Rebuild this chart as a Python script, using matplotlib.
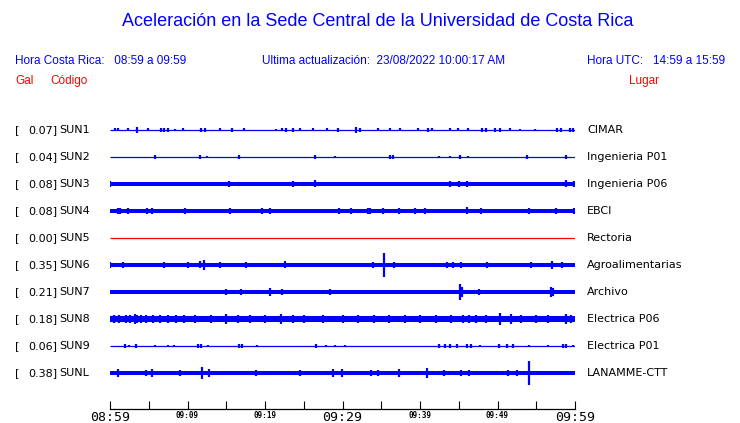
import numpy as np
import matplotlib
matplotlib.use("Agg")
from matplotlib import pyplot as plt

# station info, top to bottom
gal = ["0.07", "0.04", "0.08", "0.08", "0.00", "0.35", "0.21", "0.18", "0.06", "0.38"]
codes = ["SUN1", "SUN2", "SUN3", "SUN4", "SUN5", "SUN6", "SUN7", "SUN8", "SUN9", "SUNL"]
places = ["CIMAR", "Ingenieria P01", "Ingenieria P06", "EBCI", "Rectoria",
          "Agroalimentarias", "Archivo", "Electrica P06", "Electrica P01", "LANAMME-CTT"]

# background noise half-amplitude of each trace (fraction of row spacing)
base_amp = [0.0, 0.0, 0.08, 0.06, 0.0, 0.08, 0.06, 0.1, 0.0, 0.06]

# bursts: (minutes after 08:59, half-amplitude)
sun1 = [(0.6, .055), (1.0, .055), (2.3, .055), (3.5, .11), (4.9, .055), (6.6, .06), (7.0, .06),
        (7.5, .06), (8.4, .05), (9.4, .055), (11.7, .07), (12.3, .07), (14.2, .055), (15.7, .07),
        (17.3, .055), (21.4, .05), (22.2, .055), (22.7, .07), (23.6, .07), (24.5, .055), (26.2, .055),
        (28.0, .055), (29.4, .07), (31.7, .1), (32.3, .07), (34.6, .055), (36.1, .055), (37.4, .055),
        (39.7, .055), (41.0, .07), (41.6, .055), (43.9, .055), (44.9, .055), (46.2, .055), (48.0, .09),
        (48.5, .07), (49.7, .07), (50.3, .07), (51.6, .055), (52.9, .05), (54.8, .05), (57.7, .07),
        (58.2, .07), (59.4, .09), (59.7, .09)]
sun2 = [(5.8, .07), (11.6, .07), (12.5, .05), (16.6, .07), (26.5, .07), (29.0, .05), (36.1, .07),
        (36.5, .07), (42.5, .05), (43.9, .05), (45.1, .075), (46.2, .05), (53.8, .06), (58.8, .075)]
sun3 = [(0.0, .11), (15.4, .1), (23.6, .11), (26.5, .13), (43.9, .11), (45.0, .11), (46.1, .11),
        (58.8, .13), (59.9, .1)]
sun4 = [(1.0, .11), (1.3, .11), (2.3, .11), (4.8, .11), (5.4, .11), (6.8, .09), (7.1, .09), (9.7, .1),
        (10.9, .09), (13.3, .09), (15.5, .1), (16.9, .09), (19.0, .09), (19.6, .1), (20.7, .1),
        (22.2, .09), (24.0, .09), (25.2, .09), (27.4, .09), (29.6, .1), (31.1, .1), (33.3, .11),
        (33.6, .11), (35.2, .11), (37.3, .1), (37.9, .09), (39.4, .11), (40.6, .11), (44.0, .09),
        (46.1, .13), (47.9, .11), (50.5, .09), (54.1, .11), (54.4, .09), (57.5, .1), (59.9, .11)]
sun5 = []
sun6 = [(0.0, .11), (1.7, .11), (7.0, .11), (10.1, .11), (11.6, .13), (12.1, .2), (14.2, .11),
        (17.5, .1), (22.6, .13), (29.2, .09), (33.9, .11), (35.4, .43), (36.6, .11), (43.5, .11),
        (44.3, .11), (45.3, .11), (48.6, .1), (54.3, .1), (57.0, .15), (58.3, .1)]
sun7 = [(0.0, .09), (6.8, .09), (15.0, .1), (16.9, .11), (19.5, .09), (20.6, .15), (22.2, .11),
        (22.8, .09), (28.4, .1), (34.6, .09), (45.2, .28), (45.4, .2), (47.6, .1), (49.0, .09),
        (51.0, .09), (56.9, .2), (57.1, .15)]
sun8 = [(0.5, .15), (1.2, .15), (2.0, .13), (2.6, .15), (3.2, .2), (3.5, .15), (4.0, .15), (4.6, .13),
        (5.6, .13), (6.5, .13), (7.5, .15), (8.5, .13), (9.5, .13), (11.0, .13), (13.0, .13),
        (15.0, .17), (16.5, .13), (18.0, .13), (20.0, .13), (22.1, .17), (23.6, .13), (25.0, .13),
        (27.5, .13), (30.0, .13), (32.0, .13), (34.0, .13), (36.0, .13), (38.0, .13), (40.0, .13),
        (42.0, .13), (44.0, .13), (45.5, .15), (46.3, .15), (47.2, .13), (48.5, .13), (50.3, .24),
        (51.7, .17), (53.0, .13), (55.0, .13), (56.5, .13), (58.8, .17), (59.5, .15)]
sun9 = [(1.9, .07), (2.5, .05), (3.4, .07), (5.8, .05), (7.5, .05), (8.2, .05), (11.3, .07),
        (11.7, .07), (12.6, .05), (16.7, .09), (17.0, .09), (19.0, .05), (26.6, .07), (27.9, .05),
        (29.0, .05), (30.3, .05), (42.5, .07), (43.2, .07), (43.9, .07), (44.8, .07), (46.0, .07),
        (46.6, .07), (47.7, .05), (50.2, .07), (51.2, .07), (52.0, .07), (54.1, .05), (56.5, .05),
        (58.5, .09), (58.9, .09), (59.8, .05)]
sunl = [(1.0, .15), (4.6, .11), (5.4, .13), (9.0, .11), (11.9, .22), (12.8, .15), (18.8, .11),
        (24.5, .11), (28.8, .15), (29.9, .15), (33.7, .11), (34.6, .11), (37.3, .13), (40.9, .17),
        (43.1, .11), (45.3, .11), (46.3, .11), (51.4, .11), (52.5, .11), (54.1, .45), (58.0, .09)]
bursts = [sun1, sun2, sun3, sun4, sun5, sun6, sun7, sun8, sun9, sunl]

# time axis
tick_minutes = list(range(0, 61, 5))
tick_labels = {0: "08:59", 10: "09:09", 20: "09:19", 30: "09:29", 40: "09:39", 50: "09:49", 60: "09:59"}
big_labels = [0, 30, 60]

W, H = 740, 423
fig = plt.figure(figsize=(W / 100, H / 100), dpi=100)

def px(x, y):
    return x / W, 1 - y / H

sans = "Liberation Sans"
blue = "#0000ff"
red = "#ff0000"

fig.text(*px(378, 22), "Aceleración en la Sede Central de la Universidad de Costa Rica",
         ha="center", va="center", fontsize=13, color=blue, family=sans)
fig.text(*px(15, 61), "Hora Costa Rica:   08:59 a 09:59", ha="left", va="center",
         fontsize=8.5, color=blue, family=sans)
fig.text(*px(262, 61), "Ultima actualización:  23/08/2022 10:00:17 AM", ha="left", va="center",
         fontsize=8.5, color=blue, family=sans)
fig.text(*px(725, 61), "Hora UTC:   14:59 a 15:59", ha="right", va="center",
         fontsize=8.5, color=blue, family=sans)
fig.text(*px(15, 81), "Gal", ha="left", va="center", fontsize=8.5, color=red, family=sans)
fig.text(*px(50, 81), "Código", ha="left", va="center", fontsize=8.5, color=red, family=sans)
fig.text(*px(629, 81), "Lugar", ha="left", va="center", fontsize=8.5, color=red, family=sans)

ax = fig.add_axes([110 / W, (H - 409) / H, 465 / W, (409 - 117) / H])
ax.set_xlim(0, 60)
ax.set_ylim(10.333, -0.48)

for i in range(len(codes)):
    col = red if codes[i] == "SUN5" else blue
    if base_amp[i] > 0:
        ax.fill_between([0, 60], i - base_amp[i], i + base_amp[i], color=col, lw=0)
    else:
        ax.hlines(i, 0, 60, color=col, lw=0.9)
    if bursts[i]:
        t = np.array([b[0] for b in bursts[i]])
        a = np.array([b[1] for b in bursts[i]])
        ax.vlines(t, i - a, i + a, color=col, lw=1.6)

    fig.text(*px(15, 130 + 27 * i), "[", ha="left", va="center", fontsize=8, color="black")
    fig.text(*px(28, 130 + 27 * i), f"{gal[i]}]", ha="left", va="center", fontsize=8, color="black")
    fig.text(*px(59, 130 + 27 * i), codes[i], ha="left", va="center", fontsize=8, color="black")
    fig.text(*px(587, 130 + 27 * i), places[i], ha="left", va="center", fontsize=8, color="black")

for s in ["left", "right", "top"]:
    ax.spines[s].set_visible(False)
ax.spines["bottom"].set_linewidth(0.9)
ax.set_yticks([])
ax.set_xticks(tick_minutes)
ax.set_xticklabels([tick_labels.get(m, "") for m in tick_minutes])
ax.tick_params(axis="x", direction="in", length=6, width=0.8, pad=1.5)
for m, lab in zip(tick_minutes, ax.get_xticklabels()):
    lab.set_family("DejaVu Sans Mono")
    if m in big_labels:
        lab.set_fontsize(9.5)
    else:
        lab.set_fontsize(5.5)
        lab.set_fontweight("bold")

fig.savefig("out.png", dpi=100)
